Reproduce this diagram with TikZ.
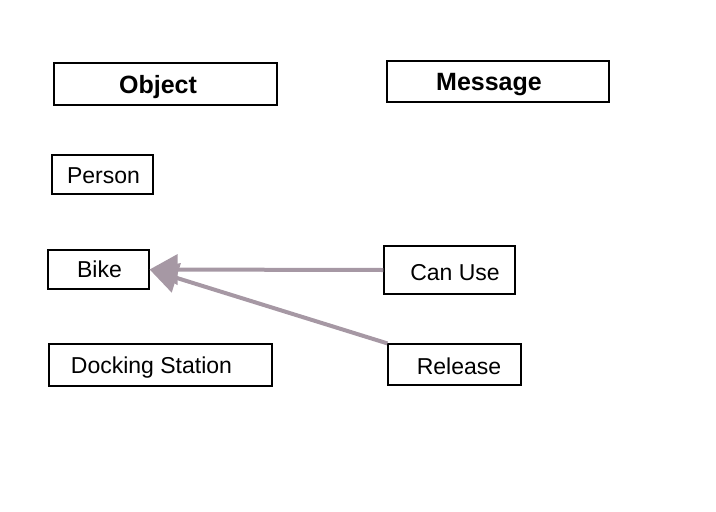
\documentclass[tikz,border=0pt]{standalone}
\usepackage{fontspec}
\setmainfont{Liberation Sans}
\usetikzlibrary{arrows.meta}
\definecolor{linkgray}{RGB}{166,152,164}
\tikzset{
  box/.style={draw, line width=1.2pt, inner sep=0pt},
  lbl/.style={font=\fontsize{23}{27}\selectfont, inner sep=0pt, text height=16.5pt, text depth=0pt},
  head/.style={font=\fontsize{25}{29}\selectfont\bfseries, inner sep=0pt, text height=18pt, text depth=0pt},
  link/.style={draw=linkgray, line width=4pt, -{Triangle[length=28pt,width=30pt]}}
}
\begin{document}
\begin{tikzpicture}[x=1pt,y=-1pt]
    \useasboundingbox (0,0) rectangle (716,512);
    % column headers
    \node[box, minimum width=223pt, minimum height=42pt] (objbox) at (165.5,84) {};
    \node[head] (objtxt) at (158,84) {Object};
    \node[box, minimum width=222pt, minimum height=41pt] (msgbox) at (498,81.5) {};
    \node[head] (msgtxt) at (489,81.5) {Message};
    % objects
    \node[box, minimum width=101pt, minimum height=39pt] (person) at (102.5,174.5) {};
    \node[lbl] (persontxt) at (103.5,175) {Person};
    \node[box, minimum width=101pt, minimum height=39pt] (bike) at (98.5,269.5) {};
    \node[lbl] (biketxt) at (99.5,269.5) {Bike};
    \node[box, minimum width=223pt, minimum height=42pt] (dock) at (160.5,365) {};
    \node[lbl] (docktxt) at (151.5,365.5) {Docking Station};
    % messages
    \node[box, minimum width=131pt, minimum height=48pt] (canuse) at (449.5,270) {};
    \node[lbl] (canusetxt) at (455,272) {Can Use};
    \node[box, minimum width=133pt, minimum height=41pt] (release) at (454.5,364.5) {};
    \node[lbl] (releasetxt) at (459,366.5) {Release};
    % links
    \draw[link] (canuse.west) -- (bike.east);
    \draw[link] (release.north west) -- (bike.east);
\end{tikzpicture}
\end{document}
